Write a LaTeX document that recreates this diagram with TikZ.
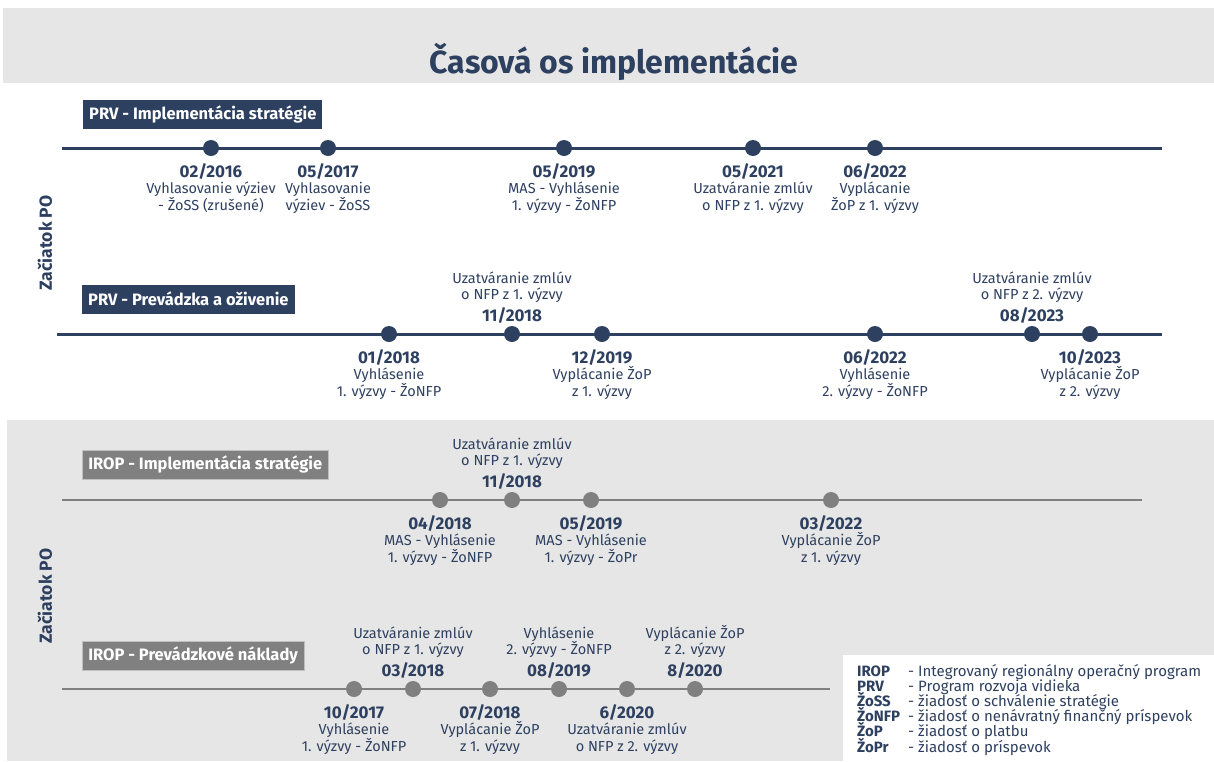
\documentclass[tikz,border=0pt]{standalone}
\usepackage{fontspec}
\setmainfont{Fira Sans}
\usetikzlibrary{positioning}
\definecolor{navy}{HTML}{2E4060}
\definecolor{dotgrey}{HTML}{808080}
\definecolor{band}{HTML}{E6E6E6}
\newcommand{\evdate}[1]{{\bfseries\fontsize{17}{17}\selectfont #1}}
\newcommand{\abbr}[1]{\makebox[51pt][l]{\bfseries #1}}
\newcommand{\legendfont}{\fontsize{15}{15.2}\selectfont\setlength{\lineskiplimit}{-20pt}}

\begin{document}
\begin{tikzpicture}[x=1pt,y=-1pt,
    dot/.style={circle,fill=navy,minimum size=16pt,inner sep=0pt},
    gdot/.style={dot,fill=dotgrey},
    axis/.style={line width=3pt,navy},
    gaxis/.style={line width=2.5pt,dotgrey},
    ev/.style={align=center,inner sep=0pt,text=navy,font=\fontsize{14.5}{16.5}\selectfont},
    evbelow/.style={ev,anchor=base,yshift=-62pt},
    evabove/.style={ev,anchor=base,yshift=13pt},
    tag/.style={fill=navy,text=white,font=\bfseries\fontsize{16.5}{16.5}\selectfont,minimum height=29pt,inner xsep=6pt,anchor=west},
    gtag/.style={tag,fill=dotgrey,draw=black!25,line width=0.6pt},
    start/.style={rotate=90,text=navy,font=\bfseries\fontsize{17.5}{17.5}\selectfont}]

    \useasboundingbox (0,0) rectangle (1214,761);
    \fill[band] (3,8) rectangle (1214,83);
    \fill[band] (7,420) rectangle (1214,761);

    \node[text=navy,font=\bfseries\fontsize{32}{32}\selectfont] (title) at (614,62) {Časová os implementácie};

    \node[start] (zac1) at (45,243) {Začiatok PO};
    \node[start] (zac2) at (45,596) {Začiatok PO};

    % PRV - implementacia
    \node[tag] (prv1) at (83,114.5) {PRV - Implementácia stratégie};
    \coordinate (a1) at (62,148);
    \coordinate (b1) at (1162,148);
    \draw[axis] (a1) -- (b1);
    \node[dot] (d11) at (211,148) {};
    \node[dot] (d12) at (328,148) {};
    \node[dot] (d13) at (564,148) {};
    \node[dot] (d14) at (753,148) {};
    \node[dot] (d15) at (875,148) {};
    \node[evbelow] (t11) at (d11) {\evdate{02/2016}\\Vyhlasovanie výziev\\- ŽoSS (zrušené)};
    \node[evbelow] (t12) at (d12) {\evdate{05/2017}\\Vyhlasovanie\\výziev - ŽoSS};
    \node[evbelow] (t13) at (d13) {\evdate{05/2019}\\MAS - Vyhlásenie\\1. výzvy - ŽoNFP};
    \node[evbelow] (t14) at (d14) {\evdate{05/2021}\\Uzatváranie zmlúv\\o NFP z 1. výzvy};
    \node[evbelow] (t15) at (d15) {\evdate{06/2022}\\Vyplácanie\\ŽoP z 1. výzvy};

    % PRV - prevadzka
    \node[tag] (prv2) at (82,299) {PRV - Prevádzka a oživenie};
    \coordinate (a2) at (57,334);
    \coordinate (b2) at (1162,334);
    \draw[axis] (a2) -- (b2);
    \node[dot] (d21) at (389,334) {};
    \node[dot] (d22) at (512,334) {};
    \node[dot] (d23) at (602,334) {};
    \node[dot] (d24) at (875,334) {};
    \node[dot] (d25) at (1032,334) {};
    \node[dot] (d26) at (1090,334) {};
    \node[evbelow] (t21) at (d21) {\evdate{01/2018}\\Vyhlásenie\\1. výzvy - ŽoNFP};
    \node[evabove] (t22) at (d22) {Uzatváranie zmlúv\\o NFP z 1. výzvy\\[3.5pt]\evdate{11/2018}};
    \node[evbelow] (t23) at (d23) {\evdate{12/2019}\\Vyplácanie ŽoP\\z 1. výzvy};
    \node[evbelow] (t24) at (d24) {\evdate{06/2022}\\Vyhlásenie\\2. výzvy - ŽoNFP};
    \node[evabove] (t25) at (d25) {Uzatváranie zmlúv\\o NFP z 2. výzvy\\[3.5pt]\evdate{08/2023}};
    \node[evbelow] (t26) at (d26) {\evdate{10/2023}\\Vyplácanie ŽoP\\z 2. výzvy};

    % IROP - implementacia
    \node[gtag] (irop1) at (82,464.5) {IROP - Implementácia stratégie};
    \coordinate (a3) at (62,500);
    \coordinate (b3) at (1142,500);
    \draw[gaxis] (a3) -- (b3);
    \node[gdot] (d31) at (440,500) {};
    \node[gdot] (d32) at (512,500) {};
    \node[gdot] (d33) at (591,500) {};
    \node[gdot] (d34) at (831,500) {};
    \node[evbelow] (t31) at (d31) {\evdate{04/2018}\\MAS - Vyhlásenie\\1. výzvy - ŽoNFP};
    \node[evabove] (t32) at (d32) {Uzatváranie zmlúv\\o NFP z 1. výzvy\\[3.5pt]\evdate{11/2018}};
    \node[evbelow] (t33) at (d33) {\evdate{05/2019}\\MAS - Vyhlásenie\\1. výzvy - ŽoPr};
    \node[evbelow] (t34) at (d34) {\evdate{03/2022}\\Vyplácanie ŽoP\\z 1. výzvy};

    % IROP - prevadzkove naklady
    \node[gtag] (irop2) at (82,655.5) {IROP - Prevádzkové náklady};
    \coordinate (a4) at (62,689);
    \coordinate (b4) at (830,689);
    \draw[gaxis] (a4) -- (b4);
    \node[gdot] (d41) at (354,689) {};
    \node[gdot] (d42) at (413,689) {};
    \node[gdot] (d43) at (490,689) {};
    \node[gdot] (d44) at (559,689) {};
    \node[gdot] (d45) at (627,689) {};
    \node[gdot] (d46) at (695,689) {};
    \node[evbelow] (t41) at (d41) {\evdate{10/2017}\\Vyhlásenie\\1. výzvy - ŽoNFP};
    \node[evabove] (t42) at (d42) {Uzatváranie zmlúv\\o NFP z 1. výzvy\\[3.5pt]\evdate{03/2018}};
    \node[evbelow] (t43) at (d43) {\evdate{07/2018}\\Vyplácanie ŽoP\\z 1. výzvy};
    \node[evabove] (t44) at (d44) {Vyhlásenie\\2. výzvy - ŽoNFP\\[3.5pt]\evdate{08/2019}};
    \node[evbelow] (t45) at (d45) {\evdate{6/2020}\\Uzatváranie zmlúv\\o NFP z 2. výzvy};
    \node[evabove] (t46) at (d46) {Vyplácanie ŽoP\\z 2. výzvy\\[3.5pt]\evdate{8/2020}};

    % legenda
    \fill[white] (843,655) rectangle (1214,761);
    \node[anchor=base west,align=left,inner sep=0pt,text=navy,font=\legendfont] (legend) at (857,752) {%
      \abbr{IROP}- Integrovaný regionálny operačný program\\
      \abbr{PRV}- Program rozvoja vidieka\\
      \abbr{ŽoSS}- žiadosť o schválenie stratégie\\
      \abbr{ŽoNFP}- žiadosť o nenávratný finančný príspevok\\
      \abbr{ŽoP}- žiadosť o platbu\\
      \abbr{ŽoPr}- žiadosť o príspevok};
\end{tikzpicture}
\end{document}
